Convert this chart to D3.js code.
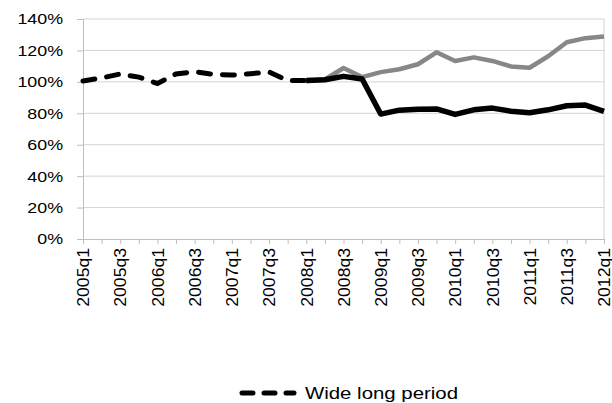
<!DOCTYPE html>
<html lang="en">
<head>
<meta charset="utf-8">
<script src="https://cdn.jsdelivr.net/npm/d3@7"></script>
<style>
  body { margin: 0; background: #fff; }
  text { font-family: "Liberation Sans", Arial, sans-serif; fill: #000; }
</style>
</head>
<body>
<script>
// quarters on the x axis
var quarters = ["2005q1","2005q2","2005q3","2005q4","2006q1","2006q2","2006q3","2006q4",
  "2007q1","2007q2","2007q3","2007q4","2008q1","2008q2","2008q3","2008q4",
  "2009q1","2009q2","2009q3","2009q4","2010q1","2010q2","2010q3","2010q4",
  "2011q1","2011q2","2011q3","2011q4","2012q1"];

// dashed series (2005q1 - 2008q1)
var wideLong = [100.5, 102.5, 105, 103, 99, 105, 106.5, 104.8, 104.3, 105.2, 106.3, 100.8, 100.8];
// solid black (2008q1 - 2012q1)
var blackLine = [100.8, 101.3, 103.5, 101.8, 79.5, 82, 82.5, 82.8, 79.3, 82.2, 83.3, 81.3, 80.3, 82.2, 84.8, 85.2, 81.2];
// solid grey (2008q1 - 2012q1)
var greyLine = [100.5, 101.5, 108.8, 103, 106.2, 108, 111.2, 118.8, 113.3, 115.6, 113.3, 109.8, 109, 116.3, 125.2, 127.8, 128.8];

var yTicks = [0, 20, 40, 60, 80, 100, 120, 140];
var xLabels = quarters.filter(function(d, i) { return i % 2 === 0; });

var w = 612, h = 403;
var pLeft = 83, pRight = 604, pTop = 19, pBottom = 239;

var svg = d3.select("body").append("svg")
  .attr("width", w).attr("height", h);

var xScale = d3.scalePoint().domain(quarters).range([pLeft, pRight]);
var yScale = d3.scaleLinear().domain([0, 140]).range([pBottom, pTop]);

// the source text is rendered a bit wider than Arial, so stretch it
function stretch(sel, k) {
  sel.each(function() {
    var len = this.getComputedTextLength();
    d3.select(this).attr("textLength", len * k).attr("lengthAdjust", "spacingAndGlyphs");
  });
}

// gridlines
svg.append("g").selectAll("line")
  .data(yTicks.filter(function(d) { return d > 0; }))
  .enter().append("line")
  .attr("x1", pLeft).attr("x2", pRight)
  .attr("y1", function(d) { return yScale(d); })
  .attr("y2", function(d) { return yScale(d); })
  .attr("stroke", "#d4d4d4").attr("stroke-width", 1);

// right border of plot area
svg.append("line")
  .attr("x1", pRight).attr("x2", pRight).attr("y1", pTop).attr("y2", pBottom)
  .attr("stroke", "#d4d4d4");

// y axis
var yAxis = d3.axisLeft(yScale).tickValues(yTicks)
  .tickFormat(function(d) { return d + "%"; }).tickSize(6).tickPadding(14);
var gy = svg.append("g").attr("transform", "translate(" + pLeft + ",0)").call(yAxis);
gy.selectAll("text").style("font-size", "15.5px").call(stretch, 1.15);
gy.selectAll("line, path").attr("stroke", "#bfbfbf");

// x axis
var xAxis = d3.axisBottom(xScale).tickSize(5).tickSizeOuter(0)
  .tickFormat(function(d) { return xLabels.indexOf(d) >= 0 ? d : ""; });
var gx = svg.append("g").attr("transform", "translate(0," + pBottom + ")").call(xAxis);
gx.selectAll("line, path").attr("stroke", "#bfbfbf");
gx.selectAll("text")
  .style("font-size", "16px")
  .attr("transform", "rotate(-90)")
  .attr("text-anchor", "end")
  .attr("x", -9).attr("y", 0).attr("dy", "0.36em")
  .filter(function(d) { return xLabels.indexOf(d) >= 0; })
  .call(stretch, 1.1);

var line = d3.line()
  .x(function(d) { return xScale(d.q); })
  .y(function(d) { return yScale(d.v); });

function toPoints(vals, start) {
  return vals.map(function(v, i) { return { q: quarters[start + i], v: v }; });
}

svg.append("path").datum(toPoints(greyLine, 12))
  .attr("d", line).attr("fill", "none")
  .attr("stroke", "#878787").attr("stroke-width", 4.5).attr("stroke-linejoin", "round");

svg.append("path").datum(toPoints(blackLine, 12))
  .attr("d", line).attr("fill", "none")
  .attr("stroke", "#000").attr("stroke-width", 5.5).attr("stroke-linejoin", "round");

svg.append("path").datum(toPoints(wideLong, 0))
  .attr("d", line).attr("fill", "none")
  .attr("stroke", "#000").attr("stroke-width", 5)
  .attr("stroke-linecap", "round")
  .attr("stroke-dasharray", "12,12");

// legend
var lg = svg.append("g").attr("transform", "translate(242,393)");
lg.append("line").attr("x1", 0).attr("x2", 52).attr("y1", 0).attr("y2", 0)
  .attr("stroke", "#000").attr("stroke-width", 5)
  .attr("stroke-linecap", "round").attr("stroke-dasharray", "11,11");
lg.append("text").attr("x", 63).attr("y", 0).attr("dy", "0.35em")
  .style("font-size", "16px").text("Wide long period")
  .attr("textLength", 153).attr("lengthAdjust", "spacingAndGlyphs");
</script>
</body>
</html>
